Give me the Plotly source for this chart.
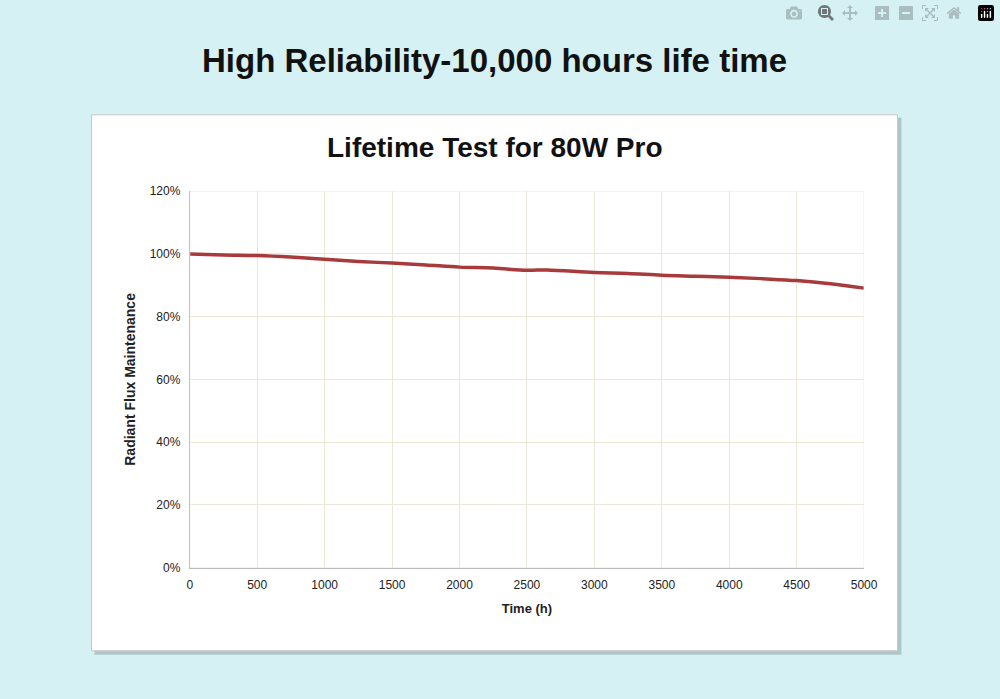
import plotly.graph_objects as go

hours = [0, 250, 500, 750, 1000, 1250, 1500, 1750, 2000, 2250, 2500, 2650,
         3000, 3250, 3500, 3750, 4000, 4250, 4500, 4750, 5000]
flux = [1.000, 0.997, 0.995, 0.990, 0.983, 0.976, 0.971, 0.965, 0.958, 0.955,
        0.948, 0.949, 0.941, 0.938, 0.932, 0.929, 0.926, 0.921, 0.915, 0.905, 0.891]
x_ticks = list(range(0, 5001, 500))
y_ticks = [0, 0.2, 0.4, 0.6, 0.8, 1.0, 1.2]

W, H = 1000, 699
fig = go.Figure()
fig.add_trace(go.Scatter(x=hours, y=flux, mode="lines", line=dict(color="#a93a3c", width=3.5, shape="spline"),
                         showlegend=False))

grid = "#ebe8d8"
fig.update_layout(
    width=W, height=H, margin=dict(l=0, r=0, t=0, b=0),
    paper_bgcolor="#d6f1f4", plot_bgcolor="white",
    font=dict(family="Liberation Sans, Arial", color="#222"),
    xaxis=dict(domain=[190 / W, 876 / W], range=[0, 5000], tickvals=x_ticks, showgrid=True,
               gridcolor=grid, zeroline=False, showline=True, linecolor="#bbb",
               ticks="outside", ticklen=6, tickcolor="rgba(0,0,0,0)",
               tickfont=dict(size=12),
               title=dict(text="<b>Time (h)</b>", font=dict(size=13), standoff=12)),
    yaxis=dict(domain=[1 - 572 / H, 1 - 188 / H], range=[0, 1.2], tickvals=y_ticks, tickformat=".0%",
               showgrid=True, gridcolor=grid, zeroline=False, showline=True, linecolor="#bbb",
               ticks="outside", ticklen=6, tickcolor="rgba(0,0,0,0)", tickfont=dict(size=12),
               title=dict(text="<b>Radiant Flux Maintenance</b>", font=dict(size=14), standoff=10)),
)
# card shadow and card
fig.add_shape(type="rect", xref="paper", yref="paper", x0=93 / W, x1=914 / W, y0=1 - 661 / H, y1=1 - 113 / H,
              fillcolor="rgba(0,0,0,0.18)", line=dict(width=0), layer="below")
fig.add_shape(type="rect", xref="paper", yref="paper", x0=90 / W, x1=910 / W, y0=1 - 657 / H, y1=1 - 110 / H,
              fillcolor="white", line=dict(color="#c8c8c8", width=1), layer="below")
fig.add_shape(type="rect", xref="x", yref="y", x0=0, x1=5000, y0=0, y1=1.2,
              line=dict(color=grid, width=1))
fig.add_annotation(text="<b>High Reliability-10,000 hours life time</b>", xref="paper", yref="paper",
                   x=0.5, y=1 - 55 / H, xanchor="center", yanchor="middle", showarrow=False,
                   font=dict(size=33, color="#111"))
fig.add_annotation(text="<b>Lifetime Test for 80W Pro</b>", xref="paper", yref="paper",
                   x=0.5, y=1 - 143 / H, xanchor="center", yanchor="middle", showarrow=False,
                   font=dict(size=28, color="#111"))
fig.write_html("out.html", post_script="document.body.style.margin='0';document.body.style.overflow='hidden';")
